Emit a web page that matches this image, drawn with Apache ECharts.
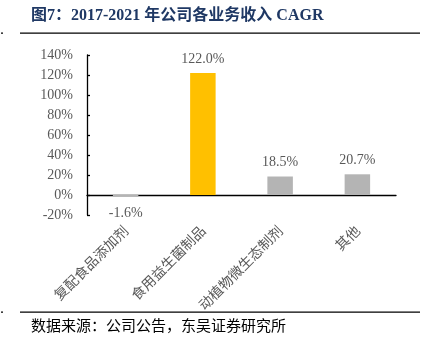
<!DOCTYPE html>
<html>
<head>
<meta charset="utf-8">
<script src="https://cdn.jsdelivr.net/npm/echarts@6/dist/echarts.min.js"></script>
<style>
  html, body { margin: 0; padding: 0; background: #fff; }
  #chart { width: 423px; height: 343px; }
</style>
</head>
<body>
<div id="chart"></div>
<script>
// Business segments and their 2017-2021 revenue CAGR (%)
const categories = ['复配食品添加剂', '食用益生菌制品', '动植物微生态制剂', '其他'];
const cagrValues = [-1.6, 122.0, 18.5, 20.7];
const barColors = ['#B4B4B4', '#FFC000', '#B4B4B4', '#B4B4B4'];
const yTicks = { min: -20, max: 140, interval: 20 };

const titleText = '图7：2017-2021 年公司各业务收入 CAGR';
const sourceText = '数据来源：公司公告，东吴证券研究所';

const serif = '"Liberation Serif", "Times New Roman", "Noto Sans CJK SC", serif';
const cjk = '"Noto Sans CJK SC", sans-serif';

const chart = echarts.init(document.getElementById('chart'));

chart.setOption({
  animation: false,
  backgroundColor: '#fff',
  grid: { left: 87, top: 55, right: 27, bottom: 128, containLabel: false },
  xAxis: {
    type: 'category',
    data: categories,
    axisLine: { onZero: true, lineStyle: { color: '#000', width: 1.3 } },
    axisTick: { show: false },
    axisLabel: {
      rotate: 45,
      margin: 13,
      color: '#595959',
      fontFamily: cjk,
      fontSize: 14,
      interval: 0
    }
  },
  yAxis: {
    type: 'value',
    min: yTicks.min,
    max: yTicks.max,
    interval: yTicks.interval,
    splitLine: { show: false },
    axisLine: { show: true, lineStyle: { color: '#000', width: 1.3 } },
    axisTick: { show: true, inside: true, length: 3, lineStyle: { color: '#000', width: 1.3 } },
    axisLabel: {
      color: '#595959',
      fontFamily: serif,
      fontSize: 14,
      margin: 14,
      formatter: v => v + '%'
    }
  },
  series: [{
    type: 'bar',
    barWidth: '33%',
    data: cagrValues.map((v, i) => ({
      value: v,
      itemStyle: { color: barColors[i] },
      label: v < 0 ? { position: 'bottom', distance: 10 } : undefined
    })),
    label: {
      show: true,
      position: 'top',
      distance: 7,
      color: '#595959',
      fontFamily: serif,
      fontSize: 14,
      formatter: p => p.value.toFixed(1) + '%'
    }
  }],
  graphic: [
    {
      type: 'text', left: 31, top: 8,
      style: { text: titleText, fill: '#1F3864', font: 'bold 16px ' + serif }
    },
    { type: 'rect', shape: { x: 20, y: 32.5, width: 400, height: 1.3 }, style: { fill: '#000' } },
    { type: 'rect', shape: { x: 1, y: 32.5, width: 2, height: 1.3 }, style: { fill: '#000' } },
    { type: 'rect', shape: { x: 20, y: 311.5, width: 400, height: 1.3 }, style: { fill: '#000' } },
    { type: 'rect', shape: { x: 1, y: 311.5, width: 2, height: 1.3 }, style: { fill: '#000' } },
    {
      type: 'text', left: 31, top: 318,
      style: { text: sourceText, fill: '#000', font: '15px ' + cjk }
    }
  ]
});
</script>
</body>
</html>
